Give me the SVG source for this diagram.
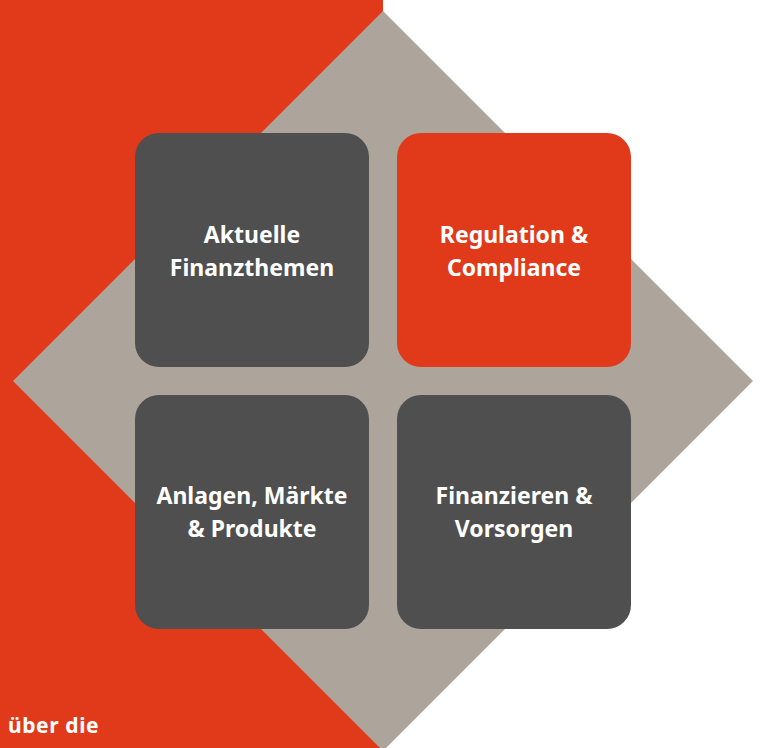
<svg xmlns="http://www.w3.org/2000/svg" width="763" height="748" viewBox="0 0 763 748">
<style>
.box{fill:#4f4f4f}
.red{fill:#e03a1a}
.t{font-family:"Noto Sans","Open Sans",sans-serif;font-weight:bold;font-size:23px;fill:#ffffff;text-anchor:middle}
</style>
<rect x="0" y="0" width="763" height="748" fill="#ffffff"/>
<rect x="0" y="0" width="383" height="748" class="red"/>
<polygon points="383,11 753,381 383,751 13,381" fill="#ada59b"/>
<g id="node-aktuelle">
<rect x="135" y="133" width="234" height="234" rx="24" class="box"/>
<text x="252" y="243" class="t">Aktuelle</text>
<text x="252" y="276" class="t">Finanzthemen</text>
</g>
<g id="node-regulation">
<rect x="397" y="133" width="234" height="234" rx="24" class="red"/>
<text x="514" y="243" class="t">Regulation &amp;</text>
<text x="514" y="276" class="t">Compliance</text>
</g>
<g id="node-anlagen">
<rect x="135" y="395" width="234" height="234" rx="24" class="box"/>
<text x="252" y="504" class="t">Anlagen, Märkte</text>
<text x="252" y="537" class="t">&amp; Produkte</text>
</g>
<g id="node-finanzieren">
<rect x="397" y="395" width="234" height="234" rx="24" class="box"/>
<text x="514" y="504" class="t">Finanzieren &amp;</text>
<text x="514" y="537" class="t">Vorsorgen</text>
</g>
<g id="connectors"></g>
<text x="8" y="733" style="font-family:'Noto Sans','Open Sans',sans-serif;font-weight:bold;font-size:21px;letter-spacing:0.6px;fill:#ffffff">über die</text>
</svg>
